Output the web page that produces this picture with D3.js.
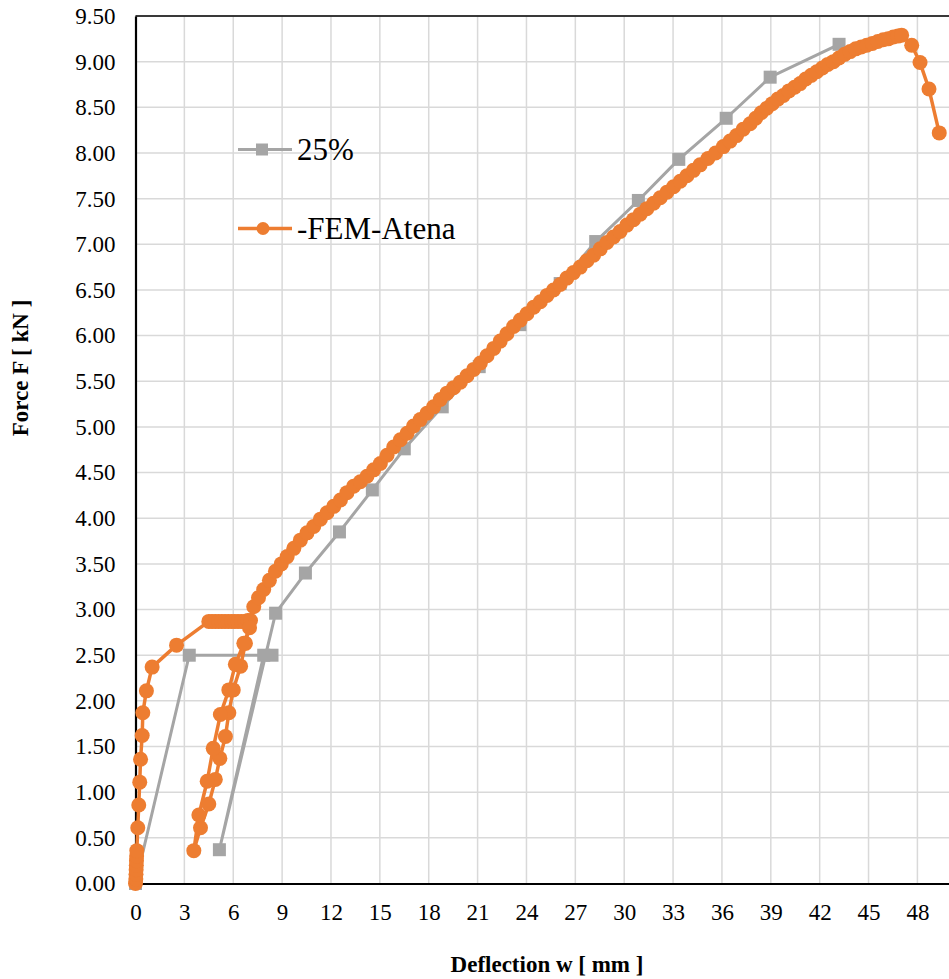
<!DOCTYPE html>
<html>
<head>
<meta charset="utf-8">
<script src="https://cdn.jsdelivr.net/npm/d3@7"></script>
<style>
  body { margin: 0; background: #fff; }
  svg { display: block; }
</style>
</head>
<body>
<div id="chart"></div>
<script>
// ---- data ----
const seriesNames = ["25%", "-FEM-Atena"];
const xTicks = [0, 3, 6, 9, 12, 15, 18, 21, 24, 27, 30, 33, 36, 39, 42, 45, 48];
const yTicks = [0, 0.5, 1, 1.5, 2, 2.5, 3, 3.5, 4, 4.5, 5, 5.5, 6, 6.5, 7, 7.5, 8, 8.5, 9, 9.5];

// 25% test (grey squares)
const testX = [0, 3.3, 8.38, 7.87, 5.15, 8.6, 10.43, 12.52, 14.54, 16.5, 18.83, 21.1, 23.6, 26.07, 28.25, 30.87, 33.35, 36.26, 38.96, 43.19];
const testY = [0, 2.5, 2.5, 2.5, 0.37, 2.96, 3.40, 3.85, 4.31, 4.76, 5.22, 5.66, 6.12, 6.57, 7.03, 7.48, 7.93, 8.38, 8.83, 9.19];

// FEM-Atena (orange circles)
const femX = [
  0, 0.02, 0.03, 0.04, 0.05, 0.06, 0.07, 0.08, 0.14, 0.2, 0.26, 0.31, 0.41, 0.45, 0.67, 1.02, 2.52,
  4.5, 4.7, 4.9, 5.1, 5.3, 5.5, 5.7, 5.9, 6.1, 6.3, 6.5, 6.7, 6.9, 7.06,
  6.75, 6.45, 6.0, 5.73, 5.52, 5.18, 4.9, 4.5, 3.99, 3.58,
  3.89, 4.4, 4.77, 5.21, 5.73, 6.13, 6.65, 7.0,
  7.26, 7.55, 7.87, 8.22, 8.59, 8.95, 9.31, 9.72, 10.12, 10.53, 10.94, 11.35, 11.76, 12.17, 12.58, 12.98,
  13.39, 13.8, 14.21, 14.62, 15.03, 15.44, 15.85, 16.26, 16.67, 17.07, 17.48, 17.89, 18.3, 18.71, 19.12,
  19.53, 19.94, 20.35, 20.76, 21.17, 21.58, 21.99, 22.39, 22.8, 23.21, 23.62, 24.03, 24.44, 24.85, 25.26,
  25.66, 26.07, 26.48, 26.89, 27.3, 27.71, 28.12, 28.53, 28.94, 29.34, 29.75, 30.16, 30.57, 30.98, 31.39,
  31.8, 32.21, 32.62, 33.03, 33.44, 33.85, 34.25, 34.66, 35.14, 35.61, 36.09, 36.5, 36.9, 37.3, 37.73,
  38.07, 38.41, 38.75, 39.09, 39.43, 39.77, 40.11, 40.46, 40.8, 41.14, 41.48, 41.82, 42.16, 42.5, 42.84,
  43.18, 43.53, 43.87, 44.21, 44.55, 44.89, 45.23, 45.57, 45.9, 46.2, 46.52, 46.8, 47.03,
  47.65, 48.16, 48.71, 49.34
];
const femY = [
  0, 0.05, 0.1, 0.15, 0.2, 0.25, 0.3, 0.36, 0.61, 0.86, 1.11, 1.36, 1.62, 1.87, 2.11, 2.37, 2.61,
  2.87, 2.87, 2.87, 2.87, 2.87, 2.87, 2.87, 2.87, 2.87, 2.87, 2.87, 2.87, 2.88, 2.88,
  2.63, 2.38, 2.12, 1.87, 1.61, 1.37, 1.14, 0.87, 0.61, 0.36,
  0.75, 1.12, 1.48, 1.85, 2.12, 2.40, 2.63, 2.80,
  3.03, 3.13, 3.22, 3.32, 3.42, 3.50, 3.58, 3.67, 3.76, 3.84, 3.91, 3.99, 4.06, 4.13, 4.20, 4.28,
  4.35, 4.40, 4.46, 4.53, 4.60, 4.69, 4.78, 4.86, 4.93, 5.01, 5.08, 5.15, 5.22, 5.30, 5.37,
  5.43, 5.49, 5.56, 5.63, 5.70, 5.78, 5.86, 5.94, 6.02, 6.10, 6.17, 6.24, 6.31, 6.37, 6.44,
  6.50, 6.56, 6.63, 6.69, 6.75, 6.82, 6.88, 6.95, 7.02, 7.08, 7.14, 7.21, 7.27, 7.33, 7.39,
  7.45, 7.51, 7.57, 7.63, 7.69, 7.75, 7.81, 7.87, 7.94, 8.00, 8.07, 8.13, 8.19, 8.26, 8.32,
  8.38, 8.44, 8.49, 8.54, 8.59, 8.63, 8.68, 8.72, 8.76, 8.81, 8.85, 8.89, 8.93, 8.97, 9.00,
  9.04, 9.08, 9.11, 9.14, 9.16, 9.18, 9.20, 9.22, 9.24, 9.25, 9.27, 9.28, 9.29,
  9.18, 8.99, 8.70, 8.22
];

// ---- layout ----
let dimensions = {
  width: 949,
  height: 979,
  margin: { top: 16, right: -1, bottom: 95.5, left: 135.5 },
};
dimensions.boundedWidth = dimensions.width - dimensions.margin.left - dimensions.margin.right;
dimensions.boundedHeight = dimensions.height - dimensions.margin.top - dimensions.margin.bottom;

const font = "'Liberation Serif', 'Times New Roman', serif";
const grey = "#a5a5a5";
const orange = "#ed7d31";

const wrapper = d3.select("#chart")
  .append("svg")
  .attr("width", dimensions.width)
  .attr("height", dimensions.height)
  .style("font-family", font);

const bounds = wrapper.append("g")
  .attr("transform", `translate(${dimensions.margin.left},${dimensions.margin.top})`);

const x = d3.scaleLinear().domain([0, 50]).range([0, dimensions.boundedWidth]);
const y = d3.scaleLinear().domain([0, 9.5]).range([dimensions.boundedHeight, 0]);

// gridlines
bounds.append("g")
  .selectAll("line")
  .data(xTicks.filter(d => d > 0))
  .join("line")
  .attr("x1", d => x(d)).attr("x2", d => x(d))
  .attr("y1", 0).attr("y2", dimensions.boundedHeight)
  .attr("stroke", "#d9d9d9").attr("stroke-width", 1.5);

bounds.append("g")
  .selectAll("line")
  .data(yTicks.filter(d => d > 0))
  .join("line")
  .attr("x1", 0).attr("x2", dimensions.boundedWidth)
  .attr("y1", d => y(d)).attr("y2", d => y(d))
  .attr("stroke", "#d9d9d9").attr("stroke-width", 1.5);

// top border
bounds.append("line")
  .attr("x1", 0).attr("x2", dimensions.boundedWidth)
  .attr("y1", 0).attr("y2", 0)
  .attr("stroke", "#000").attr("stroke-width", 1.5);

// axes
const xAxisGenerator = d3.axisBottom(x).tickValues(xTicks).tickSize(0).tickPadding(20).tickFormat(d3.format("d"));
const xAxis = bounds.append("g")
  .attr("transform", `translate(0,${dimensions.boundedHeight})`)
  .call(xAxisGenerator);

const yAxisGenerator = d3.axisLeft(y).tickValues(yTicks).tickSize(0).tickPadding(20).tickFormat(d3.format(".2f"));
const yAxis = bounds.append("g").call(yAxisGenerator);

[xAxis, yAxis].forEach(a => {
  a.attr("font-family", null).attr("font-size", null);
  a.select(".domain").attr("stroke", "#000").attr("stroke-width", 2.2);
  a.selectAll("text")
    .style("font-family", font)
    .style("font-size", "23px")
    .attr("fill", "#000");
});

// series
const testData = testX.map((d, i) => ({ x: d, y: testY[i] }));
const femData = femX.map((d, i) => ({ x: d, y: femY[i] }));

const lineGenerator = d3.line().x(d => x(d.x)).y(d => y(d.y));

bounds.append("path")
  .attr("d", lineGenerator(testData))
  .attr("fill", "none")
  .attr("stroke", grey)
  .attr("stroke-width", 3)
  .attr("stroke-linejoin", "round");

bounds.append("g")
  .selectAll("rect")
  .data(testData)
  .join("rect")
  .attr("x", d => x(d.x) - 6.5)
  .attr("y", d => y(d.y) - 6.5)
  .attr("width", 13)
  .attr("height", 13)
  .attr("fill", grey);

bounds.append("path")
  .attr("d", lineGenerator(femData))
  .attr("fill", "none")
  .attr("stroke", orange)
  .attr("stroke-width", 3.5)
  .attr("stroke-linejoin", "round");

bounds.append("g")
  .selectAll("circle")
  .data(femData)
  .join("circle")
  .attr("cx", d => x(d.x))
  .attr("cy", d => y(d.y))
  .attr("r", 7.5)
  .attr("fill", orange);

// legend
const legend = wrapper.append("g");

legend.append("line")
  .attr("x1", 238).attr("x2", 292).attr("y1", 149.5).attr("y2", 149.5)
  .attr("stroke", grey).attr("stroke-width", 3);
legend.append("rect")
  .attr("x", 262 - 6).attr("y", 149.5 - 6).attr("width", 12).attr("height", 12)
  .attr("fill", grey);
legend.append("text")
  .attr("x", 297).attr("y", 160)
  .style("font-size", "31px")
  .text(seriesNames[0]);

legend.append("line")
  .attr("x1", 238).attr("x2", 292).attr("y1", 228.5).attr("y2", 228.5)
  .attr("stroke", orange).attr("stroke-width", 3.5);
legend.append("circle")
  .attr("cx", 263).attr("cy", 228.5).attr("r", 6.5)
  .attr("fill", orange);
legend.append("text")
  .attr("x", 297).attr("y", 239)
  .style("font-size", "31px")
  .text(seriesNames[1]);

// axis titles
wrapper.append("text")
  .attr("x", 547).attr("y", 972)
  .attr("text-anchor", "middle")
  .style("font-size", "23px").style("font-weight", "bold")
  .text("Deflection w [ mm ]");

wrapper.append("text")
  .attr("transform", "translate(28,368) rotate(-90)")
  .attr("text-anchor", "middle")
  .style("font-size", "23px").style("font-weight", "bold")
  .text("Force F [ kN ]");
</script>
</body>
</html>
